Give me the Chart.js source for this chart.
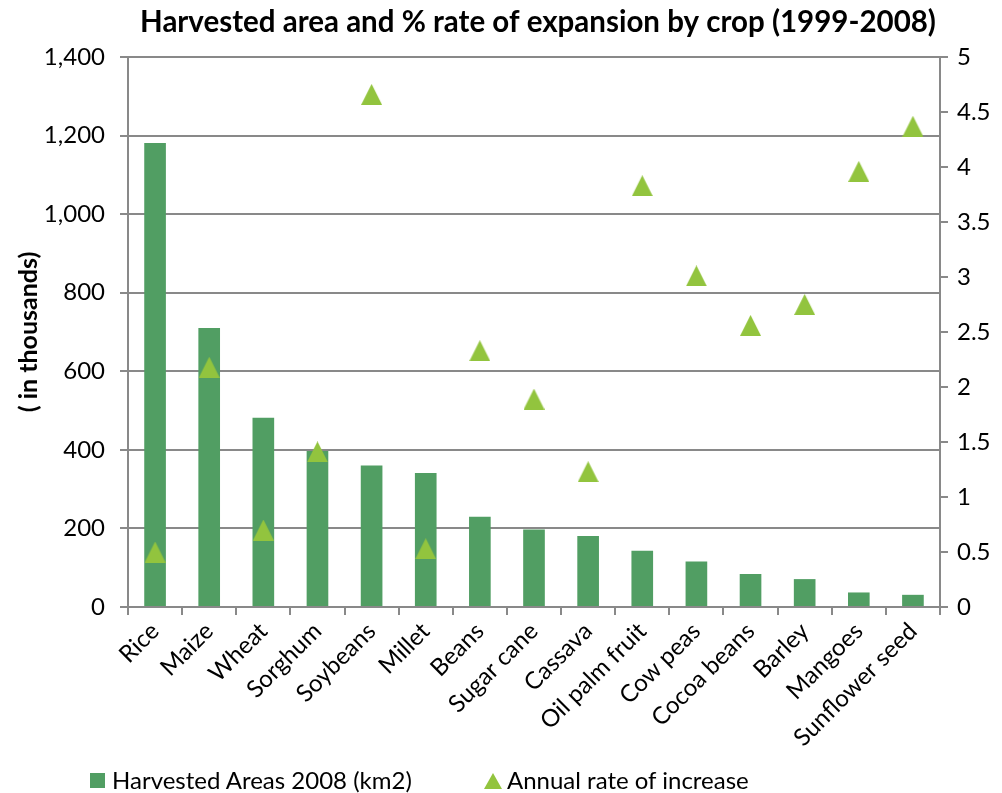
<!DOCTYPE html>
<html>
<head>
<meta charset="utf-8">
<script src="https://cdn.jsdelivr.net/npm/chart.js@4.4.1/dist/chart.umd.min.js"></script>
<style>
  html, body { margin: 0; padding: 0; background: #fff; }
  #wrap { position: relative; width: 1002px; height: 793px; }
  #legend { position: absolute; left: 0; top: 766px; font-family: Lato, sans-serif; font-size: 24px; color: #000; }
  #legend .item { position: absolute; top: 0; white-space: nowrap; line-height: 28px; }
  #legend .sq { position: absolute; width: 15px; height: 15px; top: 7px; }
  #legend .tri { position: absolute; width: 0; height: 0; top: 7px;
      border-left: 9.5px solid transparent; border-right: 9.5px solid transparent; border-bottom: 16px solid; }
  #legend .txt { position: absolute; top: 0; }
</style>
</head>
<body>
<div id="wrap">
  <canvas id="myChart" width="1002" height="793"></canvas>
  <div id="legend"></div>
</div>
<script>
const crops = ['Rice', 'Maize', 'Wheat', 'Sorghum', 'Soybeans', 'Millet', 'Beans', 'Sugar cane',
    'Cassava', 'Oil palm fruit', 'Cow peas', 'Cocoa beans', 'Barley', 'Mangoes', 'Sunflower seed'];
// thousands of km2
const harvested = [1181, 710, 482, 397, 360, 341, 230, 197, 181, 143, 116, 84, 71, 37, 31];
// % per year
const rate = [0.50, 2.18, 0.70, 1.41, 4.66, 0.53, 2.33, 1.89, 1.23, 3.83, 3.01, 2.56, 2.75, 3.96, 4.37];
const leftTicks = [0, 1400, 200];
const rightTicks = [0, 5, 0.5];

const barColor = '#519e63';
const triColor = '#92c43e';
const gridColor = '#898989';
const font = 'Lato';

function triangle(w, h) {
    const c = document.createElement('canvas');
    c.width = w;
    c.height = h;
    const g = c.getContext('2d');
    g.fillStyle = triColor;
    g.beginPath();
    g.moveTo(w / 2, 0);
    g.lineTo(w, h);
    g.lineTo(0, h);
    g.closePath();
    g.fill();
    return c;
}

// the title sits a little right of the page centre
const titleShift = {
    id: 'titleShift',
    afterLayout(chart) {
        chart.titleBlock.left += 38;
        chart.titleBlock.right += 38;
    }
};

const ctx = document.getElementById('myChart').getContext('2d');
const chart = new Chart(ctx, {
    type: 'bar',
    data: {
        labels: crops,
        datasets: [
            {
                label: 'Harvested Areas 2008 (km2)',
                data: harvested,
                backgroundColor: barColor,
                barPercentage: 0.4,
                categoryPercentage: 1.0,
                yAxisID: 'y',
                order: 2
            },
            {
                type: 'line',
                label: 'Annual rate of increase',
                data: rate,
                showLine: false,
                pointStyle: triangle(21, 21),
                backgroundColor: triColor,
                borderColor: triColor,
                yAxisID: 'y2',
                order: 1
            }
        ]
    },
    plugins: [titleShift],
    options: {
        responsive: false,
        animation: false,
        layout: { padding: { left: 8, right: 10, top: 0, bottom: 40 } },
        plugins: {
            title: {
                display: true,
                text: 'Harvested area and % rate of expansion by crop (1999-2008)',
                color: '#000',
                font: { family: font, size: 29.5, weight: 'bold' },
                padding: { top: 5, bottom: 16.6 }
            },
            legend: { display: false },
            tooltip: { enabled: false }
        },
        scales: {
            x: {
                ticks: {
                    color: '#000',
                    font: { family: font, size: 24 },
                    minRotation: 45,
                    maxRotation: 45,
                    padding: 2
                },
                grid: { drawOnChartArea: false, color: gridColor, lineWidth: 2, tickLength: 8 },
                border: { color: gridColor, width: 2 },
                afterFit: function (s) { s.height = 146; }
            },
            y: {
                position: 'left',
                min: leftTicks[0],
                max: leftTicks[1],
                ticks: {
                    stepSize: leftTicks[2], color: '#000', font: { family: font, size: 24 }, padding: 15,
                    callback: v => v.toLocaleString('en-US')
                },
                grid: { color: gridColor, lineWidth: 2, tickLength: 8 },
                border: { color: gridColor, width: 2 },
                title: {
                    display: true,
                    text: '( in thousands)',
                    color: '#000',
                    font: { family: font, size: 25, weight: 'bold' },
                    padding: { top: 6, bottom: 0 }
                },
                afterFit: function (s) { s.width = 120; }
            },
            y2: {
                position: 'right',
                min: rightTicks[0],
                max: rightTicks[1],
                ticks: {
                    stepSize: rightTicks[2], color: '#000', font: { family: font, size: 24 }, padding: 9,
                    callback: v => String(+v.toFixed(1))
                },
                grid: { drawOnChartArea: false, color: gridColor, lineWidth: 2, tickLength: 8 },
                border: { color: gridColor, width: 2 },
                afterFit: function (s) { s.width = 52; }
            }
        }
    }
});

// legend built from the datasets
const legend = document.getElementById('legend');
const legendX = [[90, 112], [484, 507]];
chart.data.datasets.forEach(function (ds, i) {
    const item = document.createElement('div');
    item.className = 'item';
    const mark = document.createElement('div');
    mark.className = ds.type === 'line' ? 'tri' : 'sq';
    if (ds.type === 'line') {
        mark.style.borderBottomColor = ds.backgroundColor;
    } else {
        mark.style.background = ds.backgroundColor;
    }
    mark.style.left = legendX[i][0] + 'px';
    const txt = document.createElement('span');
    txt.className = 'txt';
    txt.style.left = legendX[i][1] + 'px';
    txt.textContent = ds.label;
    item.appendChild(mark);
    item.appendChild(txt);
    legend.appendChild(item);
});
</script>
</body>
</html>
